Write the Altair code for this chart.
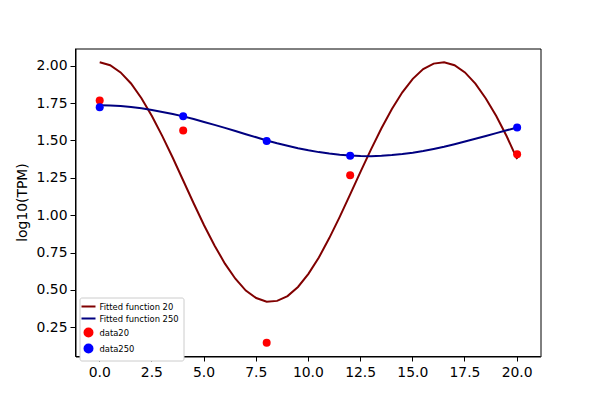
import altair as alt
import pandas as pd

# Fitted curves (x every 0.5)
fit_x = [i * 0.5 for i in range(41)]
fit20 = [2.026, 2.006, 1.958, 1.884, 1.785, 1.667, 1.532, 1.387, 1.235, 1.083, 0.936,
         0.801, 0.679, 0.578, 0.499, 0.449, 0.424, 0.430, 0.462, 0.523, 0.611, 0.720,
         0.850, 0.992, 1.142, 1.294, 1.443, 1.585, 1.714, 1.825, 1.915, 1.980, 2.017,
         2.026, 2.006, 1.958, 1.883, 1.784, 1.666, 1.531, 1.378]
fit250 = [1.738, 1.737, 1.733, 1.727, 1.718, 1.707, 1.694, 1.680, 1.664, 1.646, 1.627,
          1.607, 1.587, 1.566, 1.545, 1.524, 1.503, 1.484, 1.467, 1.451, 1.437, 1.425,
          1.415, 1.407, 1.402, 1.399, 1.398, 1.400, 1.405, 1.412, 1.421, 1.432, 1.446,
          1.461, 1.478, 1.496, 1.514, 1.533, 1.552, 1.571, 1.590]

# Measured points
pt_x = [0, 4, 8, 12, 20]
data20 = [1.77, 1.57, 0.15, 1.27, 1.41]
data250 = [1.725, 1.665, 1.50, 1.40, 1.59]

x_ticks = [0, 2.5, 5, 7.5, 10, 12.5, 15, 17.5, 20]
y_ticks = [0.25, 0.5, 0.75, 1.0, 1.25, 1.5, 1.75, 2.0]

names = ["Fitted function 20", "Fitted function 250", "data20", "data250"]
colors = ["#800000", "#000080", "#ff0000", "#0000ff"]
line_sym = "M-1.75,-0.5M-1.75,0L1.75,0M1.75,0.5"
shapes = [line_sym, line_sym, "circle", "circle"]

lines = pd.DataFrame(
    [{"x": x, "y": y, "s": names[0]} for x, y in zip(fit_x, fit20)]
    + [{"x": x, "y": y, "s": names[1]} for x, y in zip(fit_x, fit250)]
)
points = pd.DataFrame(
    [{"x": x, "y": y, "s": names[2]} for x, y in zip(pt_x, data20)]
    + [{"x": x, "y": y, "s": names[3]} for x, y in zip(pt_x, data250)]
)

font = "DejaVu Sans"
xs = alt.Scale(domain=[-1.16, 21.12], nice=False, zero=False)
ys = alt.Scale(domain=[0.058, 2.118], nice=False, zero=False)
xax = alt.Axis(values=x_ticks, format=".1f", grid=False, title=None, labelFontSize=13.9,
               labelFont=font, labelColor="black", domainColor="black", tickColor="black",
               tickSize=5, labelPadding=4, labelFlush=False, translate=0)
yax = alt.Axis(values=y_ticks, format=".2f", grid=False, title="log10(TPM)", labelFontSize=13.9,
               labelFont=font, labelColor="black", domainColor="black", tickColor="black",
               tickSize=5, labelPadding=3, titleFont=font, titleFontSize=13.9,
               titleFontWeight="normal", titleColor="black", titlePadding=7, translate=0)

leg = alt.Legend(title=None, orient="none", legendX=4, legendY=249, labelFont=font,
                 labelFontSize=8.4, labelColor="black", symbolSize=64, symbolStrokeWidth=2,
                 strokeColor="#cccccc", fillColor="white", padding=4, cornerRadius=2,
                 rowPadding=0, labelOffset=6, symbolOpacity=1)

col_sc = alt.Scale(domain=names, range=colors)
shape_sc = alt.Scale(domain=names, range=shapes)

line_layer = alt.Chart(lines).mark_line(strokeWidth=2).encode(
    x=alt.X("x:Q", scale=xs, axis=xax),
    y=alt.Y("y:Q", scale=ys, axis=yax),
    stroke=alt.Stroke("s:N", scale=col_sc, legend=leg),
    detail="s:N",
)

point_layer = alt.Chart(points).mark_point(filled=True, size=64, opacity=1, strokeWidth=0).encode(
    x=alt.X("x:Q", scale=xs),
    y=alt.Y("y:Q", scale=ys),
    fill=alt.Fill("s:N", scale=col_sc, legend=leg),
    shape=alt.Shape("s:N", scale=shape_sc, legend=leg),
)

chart = alt.layer(line_layer, point_layer).properties(
    width=465, height=308,
    autosize=alt.AutoSizeParams(type="none"),
    padding={"left": 67.5, "top": 40.5, "right": 40, "bottom": 30},
).configure(background="white").configure_view(stroke="black", strokeWidth=1)

chart.save("out.html", embed_options={"renderer": "svg", "actions": False})
